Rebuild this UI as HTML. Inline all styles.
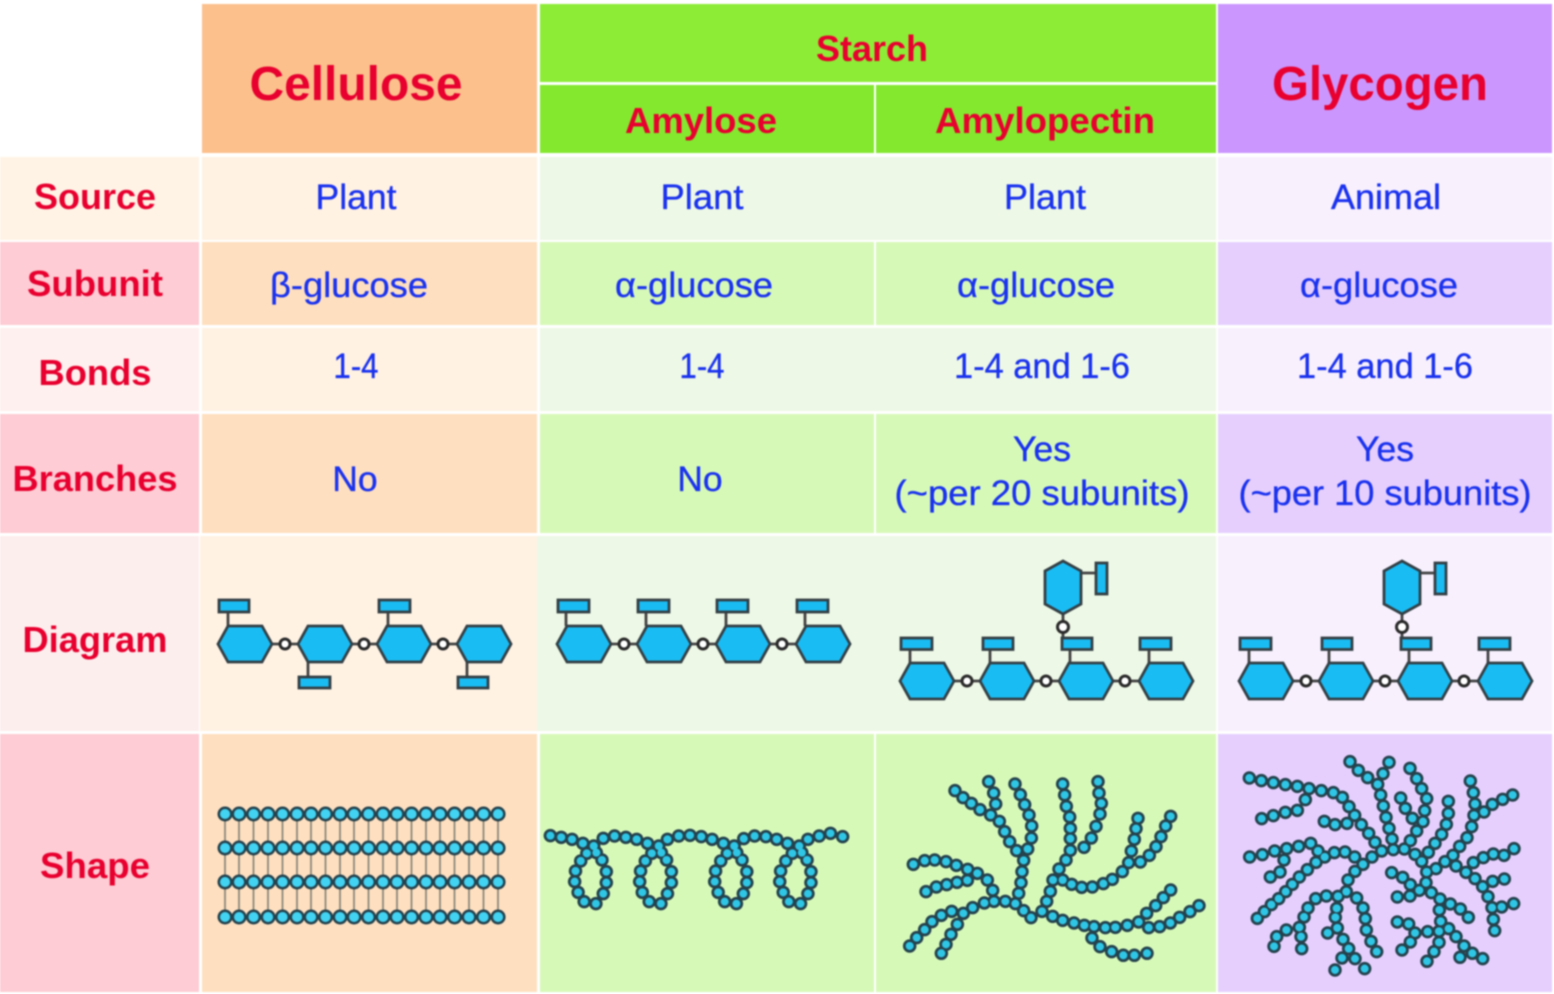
<!DOCTYPE html>
<html><head><meta charset="utf-8"><style>
html,body{margin:0;padding:0;background:#fff}
svg{display:block;filter:blur(.75px)}
.r text{font:bold 36px "Liberation Sans",sans-serif;fill:#e8002f;text-anchor:middle}
.b text{font:35.5px "Liberation Sans",sans-serif;fill:#1a32ee;stroke:#1a32ee;stroke-width:.35;text-anchor:middle}
.hx{fill:#1abcf4;stroke:#333f45;stroke-width:2.8}
.st{fill:none;stroke:#444;stroke-width:2.8}
.ci{fill:#fff;stroke:#2a2a2a;stroke-width:3}
.d{fill:none;stroke:#24424d;stroke-linecap:round;stroke-width:13.5}
.l{fill:none;stroke:#2fc6e6;stroke-linecap:round;stroke-width:8}
</style></head><body>
<svg width="1554" height="994" viewBox="0 0 1554 994" xmlns="http://www.w3.org/2000/svg">
<defs>
<polygon id="h" points="0,18 10,0 44,0 54,18 44,36 10,36"/>
<g id="chain4">
<path class="st" d="M0 18H240"/>
<use href="#h" class="hx" x="0"/><use href="#h" class="hx" x="80"/><use href="#h" class="hx" x="159"/><use href="#h" class="hx" x="239"/>
<circle class="ci" cx="67" cy="18" r="5"/><circle class="ci" cx="146" cy="18" r="5"/><circle class="ci" cx="225" cy="18" r="5"/>
</g>
<g id="branched">
<path class="st" d="M10 -16V0M90 -16V0M170 -16V0M249 -16V0M163 -54V-16M181 -90H196"/>
<use href="#chain4"/>
<rect class="hx" x="1" y="-25" width="31" height="11.5"/><rect class="hx" x="83" y="-25" width="30" height="11.5"/><rect class="hx" x="162" y="-25" width="30" height="11.5"/><rect class="hx" x="240" y="-25" width="31" height="11.5"/>
<polygon class="hx" points="163,-102 181,-92 181,-59 163,-49 145,-59 145,-92"/>
<rect class="hx" x="196" y="-100" width="11" height="31"/>
<circle class="ci" cx="163" cy="-36" r="5.5"/>
</g>
<path id="row" vector-effect="non-scaling-stroke" d="M225 0h.1M239 0h.1M253.500 0h.1M268 0h.1M282.500 0h.1M297 0h.1M311 0h.1M325.500 0h.1M340 0h.1M354 0h.1M368.500 0h.1M383 0h.1M397 0h.1M411.500 0h.1M426 0h.1M440 0h.1M454.500 0h.1M469 0h.1M483.500 0h.1M498 0h.1"/>
<path id="amy" vector-effect="non-scaling-stroke" d="M808 287h.1M833 292h.1M858 298h.1M883 310h.1M908 318h.1M930 295h.1M956 288h.1M982 292h.1M1007 298h.1M1032 310h.1M1058 318h.1M1078 298h.1M1104 288h.1M1130 286h.1M1156 290h.1M1181 298h.1M1207 310h.1M1232 318h.1M1254 296h.1M1279 288h.1M1305 290h.1M1330 298h.1M1355 310h.1M1382 318h.1M1402 298h.1M1428 288h.1M1454 280h.1M1482 290h.1M892 340h.1M914 338h.1M878 363h.1M927 360h.1M866 393h.1M937 395h.1M864 425h.1M937 428h.1M872 457h.1M930 461h.1M886 485h.1M913 491h.1M1042 340h.1M1064 338h.1M1027 363h.1M1076 360h.1M1016 393h.1M1087 395h.1M1014 425h.1M1087 428h.1M1020 457h.1M1078 461h.1M1036 485h.1M1063 491h.1M1216 340h.1M1238 338h.1M1201 363h.1M1250 360h.1M1189 393h.1M1261 395h.1M1187 425h.1M1261 428h.1M1195 457h.1M1253 461h.1M1210 485h.1M1237 491h.1M1366 340h.1M1388 338h.1M1351 363h.1M1400 360h.1M1339 393h.1M1409 395h.1M1337 425h.1M1409 428h.1M1345 457h.1M1402 461h.1M1358 485h.1M1385 491h.1"/>
<path id="pec" vector-effect="non-scaling-stroke" d="M225 152h.1M249 173h.1M274 190h.1M300 209h.1M332 225h.1M358 244h.1M374 275h.1M389 305h.1M410 332h.1M326 125h.1M341 159h.1M347 192h.1M405 132h.1M421 164h.1M434 194h.1M447 225h.1M455 258h.1M454 294h.1M443 327h.1M431 361h.1M426 395h.1M423 428h.1M416 460h.1M406 491h.1M431 512h.1M453 533h.1M376 484h.1M342 484h.1M313 489h.1M278 503h.1M250 520h.1M215 514h.1M184 526h.1M156 545h.1M134 569h.1M110 593h.1M89 618h.1M232 553h.1M213 583h.1M198 613h.1M184 640h.1M100 373h.1M134 362h.1M164 360h.1M198 365h.1M229 376h.1M263 388h.1M292 400h.1M322 420h.1M338 451h.1M138 455h.1M169 441h.1M200 434h.1M231 427h.1M262 421h.1M486 514h.1M500 484h.1M511 454h.1M519 420h.1M537 387h.1M558 360h.1M571 331h.1M571 296h.1M571 265h.1M569 231h.1M559 199h.1M554 165h.1M548 132h.1M654 125h.1M657 159h.1M664 190h.1M660 222h.1M648 259h.1M634 294h.1M612 322h.1M548 420h.1M575 433h.1M605 442h.1M637 441h.1M670 431h.1M697 418h.1M727 395h.1M746 368h.1M754 333h.1M763 298h.1M768 266h.1M774 235h.1M781 366h.1M808 346h.1M828 320h.1M843 290h.1M857 258h.1M872 229h.1M518 529h.1M548 541h.1M582 549h.1M613 556h.1M642 560h.1M676 563h.1M706 562h.1M742 556h.1M776 546h.1M800 520h.1M827 497h.1M850 473h.1M872 450h.1M806 563h.1M839 560h.1M871 549h.1M899 532h.1M930 515h.1M957 497h.1M636 594h.1M660 620h.1M695 635h.1M730 646h.1M763 646h.1M801 640h.1"/>
<path id="gly" vector-effect="non-scaling-stroke" d="M88 114h.1M124 122h.1M160 128h.1M196 134h.1M232 139h.1M267 146h.1M304 152h.1M340 158h.1M367 172h.1M387 200h.1M404 226h.1M424 254h.1M446 280h.1M465 307h.1M485 333h.1M256 179h.1M232 211h.1M196 217h.1M160 227h.1M125 236h.1M313 244h.1M345 254h.1M381 250h.1M390 65h.1M415 91h.1M443 113h.1M473 133h.1M482 165h.1M490 198h.1M498 232h.1M507 265h.1M516 297h.1M520 329h.1M507 67h.1M489 101h.1M570 85h.1M590 116h.1M605 146h.1M620 176h.1M614 212h.1M609 245h.1M590 273h.1M571 302h.1M553 327h.1M542 174h.1M556 205h.1M577 235h.1M685 184h.1M685 220h.1M679 253h.1M665 283h.1M645 310h.1M625 337h.1M605 364h.1M585 343h.1M751 123h.1M760 158h.1M765 192h.1M762 226h.1M755 260h.1M741 293h.1M719 319h.1M699 346h.1M675 365h.1M648 386h.1M620 396h.1M618 428h.1M598 451h.1M878 165h.1M848 178h.1M817 193h.1M792 216h.1M882 326h.1M852 346h.1M820 342h.1M790 353h.1M760 368h.1M708 378h.1M738 397h.1M765 416h.1M788 440h.1M804 470h.1M816 503h.1M820 538h.1M824 572h.1M853 417h.1M818 424h.1M881 491h.1M845 501h.1M515 398h.1M548 412h.1M571 434h.1M570 468h.1M532 471h.1M634 458h.1M660 477h.1M691 492h.1M721 507h.1M745 532h.1M658 510h.1M662 544h.1M657 574h.1M657 607h.1M642 635h.1M621 664h.1M686 566h.1M708 590h.1M732 618h.1M757 640h.1M788 656h.1M720 652h.1M623 575h.1M585 579h.1M566 552h.1M532 546h.1M571 606h.1M546 630h.1M456 351h.1M429 373h.1M404 351h.1M375 336h.1M343 338h.1M314 351h.1M288 367h.1M262 389h.1M238 411h.1M217 433h.1M197 455h.1M176 476h.1M154 494h.1M133 515h.1M112 535h.1M294 333h.1M272 310h.1M236 319h.1M200 326h.1M164 333h.1M127 344h.1M89 351h.1M192 360h.1M180 396h.1M151 411h.1M405 394h.1M384 420h.1M379 455h.1M354 469h.1M319 468h.1M287 476h.1M264 504h.1M252 531h.1M238 562h.1M243 590h.1M245 626h.1M199 570h.1M170 590h.1M162 619h.1M410 474h.1M429 504h.1M436 536h.1M439 570h.1M453 604h.1M470 635h.1M350 505h.1M346 532h.1M352 564h.1M323 579h.1M369 598h.1M386 626h.1M405 656h.1M434 686h.1M366 654h.1M345 690h.1"/>
</defs>

<rect width="1554" height="994" fill="#fff"/>
<!-- headers -->
<rect x="202" y="4" width="335" height="149" fill="#fbc08c"/>
<rect x="540" y="4" width="676" height="78" fill="#8dec36"/>
<rect x="540" y="85" width="334" height="68" fill="#84e82f"/>
<rect x="876" y="85" width="340" height="68" fill="#84e82f"/>
<rect x="1218" y="4" width="334" height="149" fill="#cb96fd"/>
<!-- rows: label, cellulose, amylose, amylopectin, glycogen -->
<g>
<rect x="0" y="157" width="199" height="83" fill="#fff3e6"/><rect x="202" y="157" width="335" height="83" fill="#fff2e3"/><rect x="540" y="157" width="676" height="83" fill="#eef8e6"/><rect x="1218" y="157" width="334" height="83" fill="#f8f0fd"/>
<rect x="0" y="242" width="199" height="83" fill="#fdccd4"/><rect x="202" y="242" width="335" height="83" fill="#fedfc0"/><rect x="540" y="242" width="334" height="83" fill="#d7f9b8"/><rect x="876" y="242" width="340" height="83" fill="#d7f9b8"/><rect x="1218" y="242" width="334" height="83" fill="#e6cffd"/>
<rect x="0" y="328" width="199" height="83" fill="#fef0ee"/><rect x="202" y="328" width="335" height="83" fill="#fff2e3"/><rect x="540" y="328" width="676" height="83" fill="#eef8e6"/><rect x="1218" y="328" width="334" height="83" fill="#f8f0fd"/>
<rect x="0" y="414" width="199" height="119" fill="#fdccd4"/><rect x="202" y="414" width="335" height="119" fill="#fedfc0"/><rect x="540" y="414" width="334" height="119" fill="#d7f9b8"/><rect x="876" y="414" width="340" height="119" fill="#d7f9b8"/><rect x="1218" y="414" width="334" height="119" fill="#e6cffd"/>
<rect x="0" y="536" width="199" height="195" fill="#fdeeee"/><rect x="200" y="536" width="337" height="195" fill="#fff2e3"/><rect x="537" y="536" width="679" height="195" fill="#eef8e6"/><rect x="1218" y="536" width="334" height="195" fill="#f8f0fd"/>
<rect x="0" y="734" width="199" height="258" fill="#fdccd4"/><rect x="202" y="734" width="335" height="258" fill="#fedfc0"/><rect x="540" y="734" width="334" height="258" fill="#d7f9b8"/><rect x="876" y="734" width="340" height="258" fill="#d7f9b8"/><rect x="1218" y="734" width="334" height="258" fill="#e6cffd"/>
</g>

<g class="r">
<text x="356" y="100" style="font-size:48px" textLength="213" lengthAdjust="spacingAndGlyphs">Cellulose</text>
<text x="872" y="61" textLength="112" lengthAdjust="spacingAndGlyphs">Starch</text>
<text x="701" y="133" textLength="152" lengthAdjust="spacingAndGlyphs">Amylose</text>
<text x="1045" y="133" textLength="220" lengthAdjust="spacingAndGlyphs">Amylopectin</text>
<text x="1380" y="100" style="font-size:48px" textLength="216" lengthAdjust="spacingAndGlyphs">Glycogen</text>
<text x="95" y="209" textLength="122" lengthAdjust="spacingAndGlyphs">Source</text>
<text x="95" y="296" textLength="136" lengthAdjust="spacingAndGlyphs">Subunit</text>
<text x="95" y="385" textLength="113" lengthAdjust="spacingAndGlyphs">Bonds</text>
<text x="95" y="491" textLength="165" lengthAdjust="spacingAndGlyphs">Branches</text>
<text x="95" y="652" textLength="145" lengthAdjust="spacingAndGlyphs">Diagram</text>
<text x="95" y="878" textLength="110" lengthAdjust="spacingAndGlyphs">Shape</text>
</g>
<g class="b">
<text x="356" y="209" textLength="81" lengthAdjust="spacingAndGlyphs">Plant</text><text x="702" y="209" textLength="83" lengthAdjust="spacingAndGlyphs">Plant</text><text x="1045" y="209" textLength="82" lengthAdjust="spacingAndGlyphs">Plant</text><text x="1386" y="209" textLength="110" lengthAdjust="spacingAndGlyphs">Animal</text>
<text x="349" y="297" textLength="158" lengthAdjust="spacingAndGlyphs">β-glucose</text><text x="694" y="297" textLength="158" lengthAdjust="spacingAndGlyphs">α-glucose</text><text x="1036" y="297" textLength="158" lengthAdjust="spacingAndGlyphs">α-glucose</text><text x="1379" y="297" textLength="158" lengthAdjust="spacingAndGlyphs">α-glucose</text>
<text x="356" y="378" textLength="45" lengthAdjust="spacingAndGlyphs">1-4</text><text x="702" y="378" textLength="45" lengthAdjust="spacingAndGlyphs">1-4</text>
<text x="1042" y="378" textLength="176" lengthAdjust="spacingAndGlyphs">1-4 and 1-6</text><text x="1385" y="378" textLength="176" lengthAdjust="spacingAndGlyphs">1-4 and 1-6</text>
<text x="355" y="491">No</text><text x="700" y="491">No</text>
<text x="1042" y="461">Yes</text><text x="1042" y="505" textLength="295" lengthAdjust="spacingAndGlyphs">(~per 20 subunits)</text>
<text x="1385" y="461">Yes</text><text x="1385" y="505" textLength="293" lengthAdjust="spacingAndGlyphs">(~per 10 subunits)</text>
</g>

<!-- Diagram row -->
<g transform="translate(218,626)">
<path class="st" d="M10 -16V0M170 -16V0M90 36V52M249 36V52"/>
<use href="#chain4"/>
<rect class="hx" x="1" y="-26" width="30" height="12"/><rect class="hx" x="161" y="-26" width="31" height="12"/><rect class="hx" x="81" y="51" width="31" height="11"/><rect class="hx" x="240" y="51" width="30" height="11"/>
</g>
<g transform="translate(557,626)">
<path class="st" d="M9 -16V0M89 -16V0M169 -16V0M248 -16V0"/>
<use href="#chain4"/>
<rect class="hx" x="1" y="-26" width="31" height="12"/><rect class="hx" x="81" y="-26" width="31" height="12"/><rect class="hx" x="160" y="-26" width="31" height="12"/><rect class="hx" x="240" y="-26" width="31" height="12"/>
</g>
<use href="#branched" x="900" y="663"/>
<use href="#branched" x="1239" y="663"/>

<!-- Cellulose shape -->
<path d="M225 814V917M239 814V917M253.500 814V917M268 814V917M282.500 814V917M297 814V917M311 814V917M325.500 814V917M340 814V917M354 814V917M368.500 814V917M383 814V917M397 814V917M411.500 814V917M426 814V917M440 814V917M454.500 814V917M469 814V917M483.500 814V917M498 814V917" fill="none" stroke="#8d8a7c" stroke-width="1.8"/>
<g class="d" style="stroke-width:15"><use href="#row" y="814"/><use href="#row" y="848"/><use href="#row" y="882"/><use href="#row" y="917"/></g>
<g class="l" style="stroke:#42d2f2;stroke-width:10"><use href="#row" y="814"/><use href="#row" y="848"/><use href="#row" y="882"/><use href="#row" y="917"/></g>

<!-- Amylose -->
<g transform="translate(200,740) scale(.4336,.3333)"><use href="#amy" class="d"/><use href="#amy" class="l"/></g>
<!-- Amylopectin -->
<g transform="translate(880,740) scale(.3333)"><use href="#pec" class="d"/><use href="#pec" class="l"/></g>
<!-- Glycogen -->
<g transform="translate(1220,740) scale(.3333)"><use href="#gly" class="d"/><use href="#gly" class="l"/></g>
</svg>
</body></html>
